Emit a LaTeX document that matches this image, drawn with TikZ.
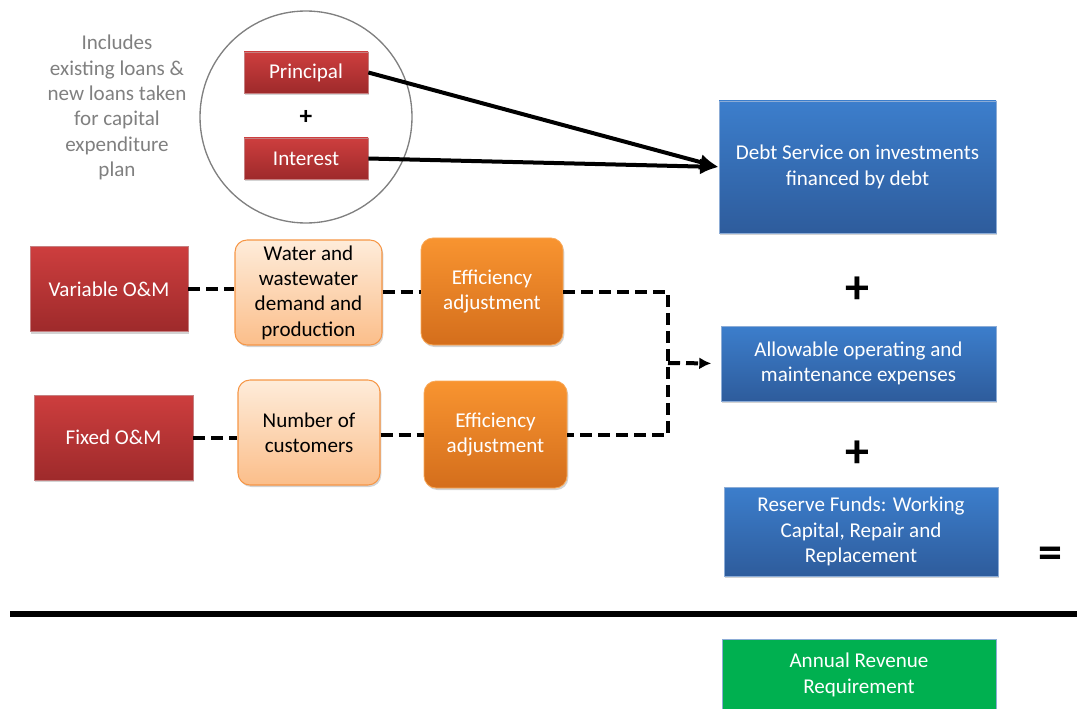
\documentclass[tikz,border=0pt]{standalone}
\usepackage{fontspec}
\setmainfont{Carlito}
\usepackage{tikz}
\usetikzlibrary{arrows.meta,shadows}
\definecolor{redTop}{RGB}{205,62,62}
\definecolor{redBot}{RGB}{158,42,43}
\definecolor{blueTop}{RGB}{60,126,204}
\definecolor{blueBot}{RGB}{46,92,156}
\definecolor{blueEdge}{RGB}{140,172,214}
\definecolor{orgTop}{RGB}{248,148,48}
\definecolor{orgBot}{RGB}{212,110,28}
\definecolor{peachTop}{RGB}{254,236,218}
\definecolor{peachBot}{RGB}{251,190,138}
\definecolor{peachEdge}{RGB}{246,150,70}
\definecolor{revGreen}{RGB}{0,176,80}
\definecolor{noteGray}{RGB}{128,128,128}

\begin{document}
\begin{tikzpicture}[x=0.75pt,y=-0.75pt,
    txt/.style={font=\fontsize{15.8}{19}\selectfont,align=center},
    boxbase/.style={txt,inner sep=0pt,text=white,
      drop shadow={opacity=0.35,shadow xshift=1pt,shadow yshift=-1.5pt}},
    redbox/.style={boxbase,top color=redTop,bottom color=redBot,draw=redBot!60!white,line width=0.5pt},
    bluebox/.style={boxbase,top color=blueTop,bottom color=blueBot,draw=blueEdge,line width=0.6pt},
    orgbox/.style={boxbase,rounded corners=9pt,top color=orgTop,bottom color=orgBot,draw=orgTop!80!white,line width=0.6pt},
    peachbox/.style={boxbase,text=black,rounded corners=9pt,top color=peachTop,bottom color=peachBot,draw=peachEdge,line width=0.8pt},
    dashline/.style={line width=3pt,dash pattern=on 9pt off 4.5pt},
    debtline/.style={line width=3pt,-{Latex[length=14pt,width=12pt]}},
    bigsign/.style={font=\fontsize{36}{36}\bfseries\selectfont}]
  \useasboundingbox (0,0) rectangle (1077,709);

  % loans feeding debt service
  \node[txt,text=noteGray] (note) at (117,107.5)
    {Includes\\existing loans \&\\new loans taken\\for capital\\expenditure\\plan};
  \node[draw=noteGray,line width=1pt,circle,minimum size=159pt] (loans) at (306,117) {};
  \node[redbox,minimum width=93pt,minimum height=30.75pt] (prin) at (306,72.5) {Principal};
  \node[redbox,minimum width=93pt,minimum height=30.75pt] (inter) at (306,158.5) {Interest};
  \node[font=\fontsize{19}{19}\bfseries\selectfont] (plusA) at (306,117) {+};

  % right hand column
  \node[bluebox,minimum width=207.75pt,minimum height=99pt] (debt) at (857.5,167)
    {Debt Service on investments\\financed by debt};
  \node[bluebox,minimum width=206.25pt,minimum height=56.25pt] (allow) at (858.5,363.5)
    {Allowable operating and\\maintenance expenses};
  \node[bluebox,minimum width=205.5pt,minimum height=66.75pt] (resv) at (861,531.5)
    {Reserve Funds: Working\\Capital, Repair and\\Replacement};
  \node[boxbase,fill=revGreen,draw=blueEdge,line width=0.6pt,
    minimum width=205.5pt,minimum height=54pt] (rev) at (859,675)
    {Annual Revenue\\Requirement};
  \node[bigsign] (plusB) at (857,290) {+};
  \node[bigsign] (plusC) at (857,454) {+};
  \node[bigsign] (equal) at (1050,558) {=};
  \draw[line width=4.5pt] (10,614) -- (1077,614);

  \draw[debtline] (prin.east) -- (debt.west);
  \draw[debtline] (inter.east) -- (debt.west);

  % O&M rows
  \node[redbox,minimum width=118.5pt,minimum height=63.75pt] (varom) at (109,289) {Variable O\&M};
  \node[peachbox,minimum width=110.25pt,minimum height=78.75pt] (demand) at (308.5,292.5)
    {Water and\\wastewater\\demand and\\production};
  \node[orgbox,minimum width=106.5pt,minimum height=80.25pt] (effA) at (492,291.5)
    {Efficiency\\adjustment};
  \node[redbox,minimum width=119.25pt,minimum height=63.75pt] (fixom) at (113.5,437.5) {Fixed O\&M};
  \node[peachbox,minimum width=106.5pt,minimum height=78.75pt] (cust) at (309,432.5)
    {Number of\\customers};
  \node[orgbox,minimum width=107.25pt,minimum height=80.25pt] (effB) at (495.5,434.5)
    {Efficiency\\adjustment};
  \coordinate (join) at (668,363);

  \draw[dashline] (varom.east) -- (varom.east -| demand.west);
  \draw[dashline] (effA.west -| demand.east) -- (effA.west);
  \draw[dashline] (fixom.east) -- (fixom.east -| cust.west);
  \draw[dashline] (effB.west -| cust.east) -- (effB.west);
  \draw[dashline] (effA.east) -| (join) |- (effB.east);
  \draw[dashline,-{Latex[length=9pt,width=9pt]},shorten >=7pt] (join) -- (allow.west);
\end{tikzpicture}
\end{document}
